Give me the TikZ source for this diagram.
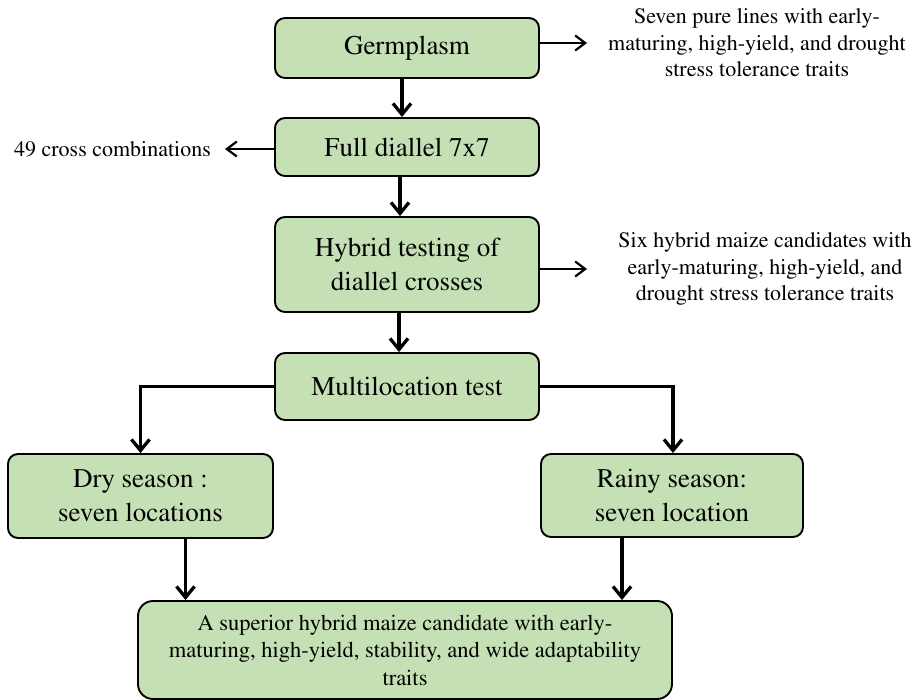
\documentclass[tikz,border=0pt]{standalone}
\usepackage[T1]{fontenc}
\usepackage{mathptmx}
\usetikzlibrary{arrows.meta}
\definecolor{boxgreen}{HTML}{C5E0B4}
\tikzset{
  stagebox/.style={draw=black, line width=1.9pt, fill=boxgreen, rounded corners=10pt,
    inner sep=0pt, align=center, font=\rmfamily\fontsize{27}{34}\selectfont},
  notetext/.style={inner sep=0pt, align=center, font=\rmfamily\fontsize{22}{26.5}\selectfont},
  mainarrow/.style={line width=3.3pt, -{Straight Barb[length=11pt,width=18pt,line width=3.3pt]}},
  sidearrow/.style={line width=2.2pt, -{Straight Barb[length=10pt,width=15pt,line width=2.2pt]}}
}
\begin{document}
\begin{tikzpicture}[x=1pt,y=-1pt]
\useasboundingbox (0,0) rectangle (920,699);
% boxes
\node[stagebox, minimum width=264pt, minimum height=60pt] (germ) at (407,48) {Germplasm};
\node[stagebox, minimum width=264pt, minimum height=58pt] (full) at (407,147) {Full diallel 7x7};
\node[stagebox, minimum width=264pt, minimum height=95pt] (hyb) at (407,264.5) {Hybrid testing of\\diallel crosses};
\node[stagebox, minimum width=264pt, minimum height=67pt] (multi) at (407,386.5) {Multilocation test};
\node[stagebox, minimum width=265pt, minimum height=84pt] (dry) at (140.5,496) {Dry season :\\seven locations};
\node[stagebox, minimum width=262pt, minimum height=83pt] (rainy) at (672,495.5) {Rainy season:\\seven location};
\node[stagebox, minimum width=534pt, minimum height=98pt, rounded corners=15pt,
  font=\rmfamily\fontsize{22.5}{27.5}\selectfont] (final) at (405,650)
  {A superior hybrid maize candidate with early-\\maturing, high-yield, stability, and wide adaptability\\traits};
% notes
\node[notetext] (note1) at (757,43) {Seven pure lines with early-\\maturing, high-yield, and drought\\stress tolerance traits};
\node[notetext] (note2) at (112.5,149) {49 cross combinations};
\node[notetext] (note3) at (765,269) {Six hybrid maize candidates with\\early-maturing, high-yield, and\\drought stress tolerance traits};
\coordinate (n1end) at (587,43);
\coordinate (n2end) at (225,149);
\coordinate (n3end) at (587,269);
% main flow
\draw[mainarrow] ([xshift=-5pt]germ.south) -- ([xshift=-5pt]full.north);
\draw[mainarrow] ([xshift=-7pt]full.south) -- ([xshift=-7pt]hyb.north);
\draw[mainarrow] ([xshift=-8pt]hyb.south) -- ([xshift=-8pt]multi.north);
\draw[mainarrow] (multi.west) -| (dry.north);
\draw[mainarrow] (multi.east) -| ([xshift=1pt]rainy.north);
\draw[mainarrow] ([xshift=45pt]dry.south) -- ([xshift=45pt]dry.south |- final.north);
\draw[mainarrow] ([xshift=-50pt]rainy.south) -- ([xshift=-50pt]rainy.south |- final.north);
% side arrows
\draw[sidearrow] (germ.east |- n1end) -- (n1end);
\draw[sidearrow] (full.west |- n2end) -- (n2end);
\draw[sidearrow] (hyb.east |- n3end) -- (n3end);
\end{tikzpicture}
\end{document}
